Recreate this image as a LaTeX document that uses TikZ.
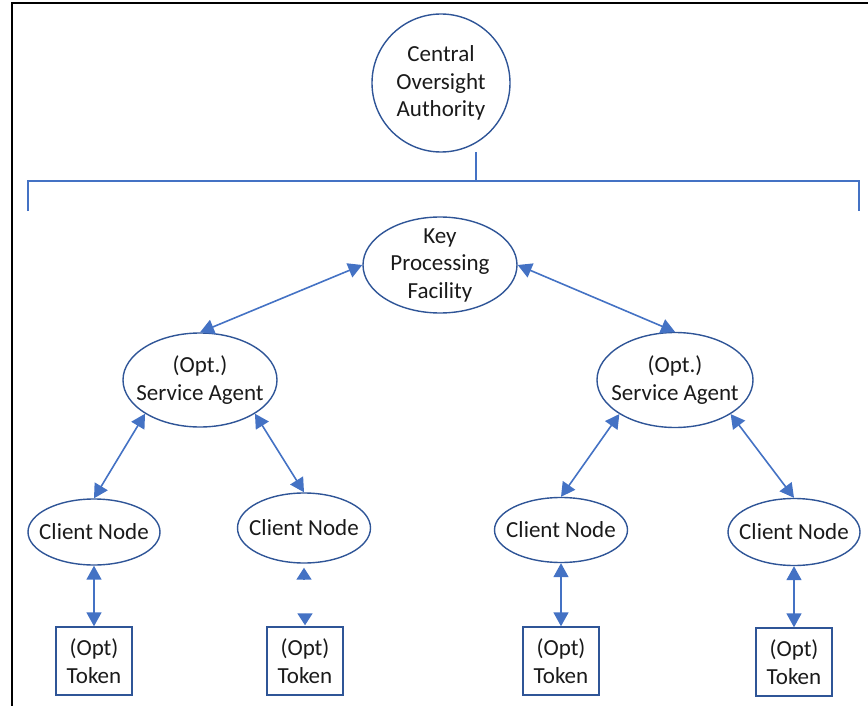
\documentclass[tikz,border=0pt]{standalone}
\usepackage{fontspec}
\setmainfont{Carlito}
\usepackage{tikz}
\usetikzlibrary{shapes.geometric, arrows.meta}
\definecolor{edgeblue}{HTML}{2F5597}
\definecolor{arrblue}{HTML}{4472C4}
\definecolor{txtgray}{HTML}{1A1A1A}
\tikzstyle{oval} = [ellipse, draw=edgeblue, line width=1.4pt, inner sep=0pt]
\tikzstyle{tokenbox} = [rectangle, draw=edgeblue, line width=1.4pt, minimum width=76, minimum height=68, align=center, inner sep=0pt]
\tikzset{
  arrow/.style={line width=1.6pt, draw=arrblue, fill=arrblue, {Stealth[inset=0pt, length=14pt, width=15pt]}-{Stealth[inset=0pt, length=14pt, width=15pt]}},
  halfarrow/.style={line width=1.6pt, draw=arrblue, fill=arrblue, -{Stealth[inset=0pt, length=12pt, width=15pt]}}
}
\tikzstyle{bracket} = [line width=2pt, arrblue]

\begin{document}
\begin{tikzpicture}[x=1pt, y=-1pt, every node/.append style={font=\fontsize{23}{27.5}\selectfont, text=txtgray}]
    \useasboundingbox (0,0) rectangle (868,706);
    % frame
    \draw[line width=2.5pt] (12,706) -- (12,3) -- (868,3);

    % top
    \node[circle, draw=edgeblue, line width=1.4pt, minimum size=138, inner sep=0pt, align=center] (coa) at (441,83) {Central\\Oversight\\Authority};
    \coordinate (cstem) at (476,152);
    \coordinate (cjoin) at (476,181);
    \coordinate (lbr) at (28,181);
    \coordinate (rbr) at (859,181);
    \draw[bracket] (cstem) -- (cjoin);
    \draw[bracket] (28,211) -- (lbr) -- (rbr) -- (859,211);

    \node[oval, minimum width=154, minimum height=96, label={[align=center]center:Key\\Processing\\Facility}] (kpf) at (440,265) {};

    % agents
    \node[oval, minimum width=154, minimum height=94, label={[align=center]center:(Opt.)\\Service Agent}] (sal) at (200,380) {};
    \node[oval, minimum width=156, minimum height=95, label={[align=center]center:(Opt.)\\Service Agent}] (sar) at (675,380) {};

    % clients
    \node[oval, minimum width=132, minimum height=66, label=center:Client Node] (cn1) at (94,532) {};
    \node[oval, minimum width=133, minimum height=70, label=center:Client Node] (cn2) at (304,528) {};
    \node[oval, minimum width=133, minimum height=65, label=center:Client Node] (cn3) at (561,530) {};
    \node[oval, minimum width=132, minimum height=67, label=center:Client Node] (cn4) at (794,532) {};

    % tokens
    \node[tokenbox] (tk1) at (94,661) {(Opt)\\Token};
    \node[tokenbox] (tk2) at (305,661) {(Opt)\\Token};
    \node[tokenbox] (tk3) at (561,661) {(Opt)\\Token};
    \node[tokenbox] (tk4) at (794,662) {(Opt)\\Token};

    \draw[arrow] (kpf.west) -- (sal.north);
    \draw[arrow] (kpf.east) -- (sar.north);
    \draw[arrow] (sal.south west) -- (cn1.north);
    \draw[arrow] (sal.south east) -- (cn2.north);
    \draw[arrow] (sar.south west) -- (cn3.north);
    \draw[arrow] (sar.south east) -- (cn4.north);

    \draw[arrow] (cn1.south) -- (tk1.north);
    \draw[arrow] (cn3.south) -- (tk3.north);
    \draw[arrow] (cn4.south) -- (tk4.north);
    % only the tips show here
    \coordinate (gapt) at (304,579);
    \coordinate (gapb) at (305,614);
    \draw[halfarrow, shorten >=4pt] (gapt) -- (cn2.south);
    \draw[halfarrow, shorten >=1pt] (gapb) -- (tk2.north);
\end{tikzpicture}
\end{document}
